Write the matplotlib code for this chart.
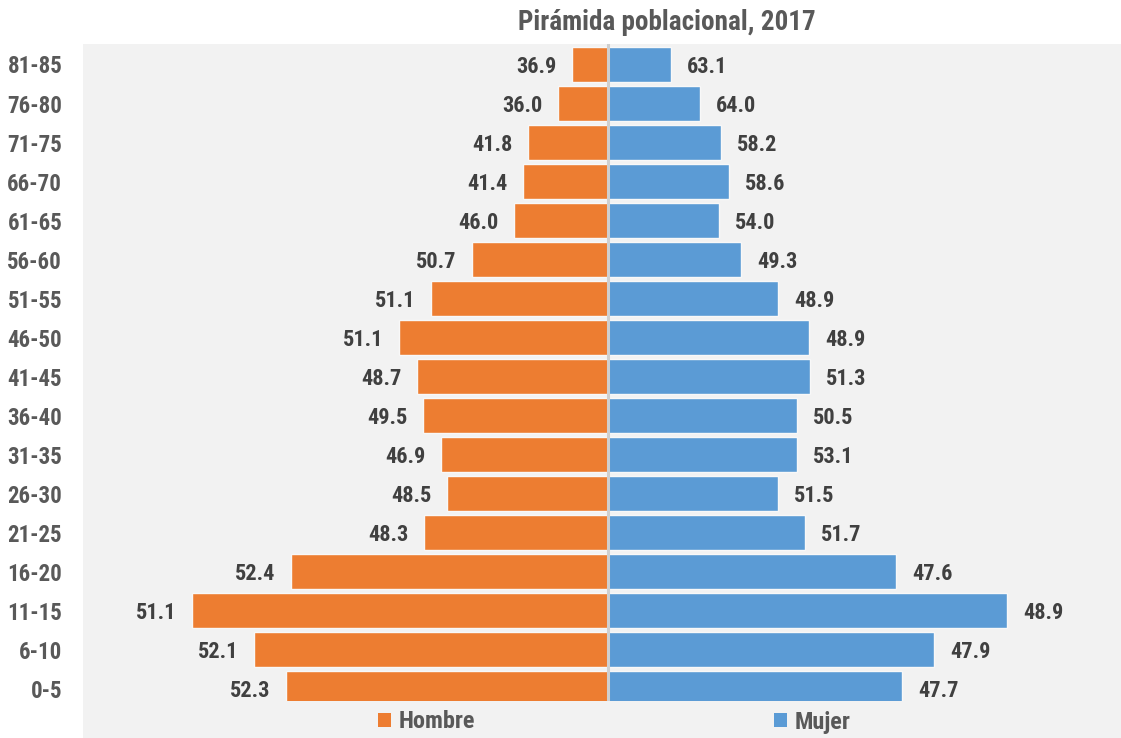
import matplotlib
matplotlib.use("Agg")
import matplotlib.pyplot as plt
from matplotlib.patches import Patch, Rectangle

# age groups, bottom to top
grupos = ["0-5", "6-10", "11-15", "16-20", "21-25", "26-30", "31-35", "36-40",
          "41-45", "46-50", "51-55", "56-60", "61-65", "66-70", "71-75", "76-80", "81-85"]

# bar lengths (same arbitrary unit for both sides)
hombre = [321.5, 353.5, 415.5, 316.5, 183.5, 160.5, 166.5, 184.5,
          190.5, 208.5, 176.5, 135.5, 93.5, 84.5, 79.5, 49.5, 35.5]
mujer = [294.5, 326.5, 399.5, 288.5, 197.5, 170.5, 189.5, 189.5,
         202.5, 201.5, 170.5, 133.5, 111.5, 121.5, 113.5, 92.5, 63.5]

# percentage labels shown next to bars
pct_hombre = ["52.3", "52.1", "51.1", "52.4", "48.3", "48.5", "46.9", "49.5",
              "48.7", "51.1", "51.1", "50.7", "46.0", "41.4", "41.8", "36.0", "36.9"]
pct_mujer = ["47.7", "47.9", "48.9", "47.6", "51.7", "51.5", "53.1", "50.5",
             "51.3", "48.9", "48.9", "49.3", "54.0", "58.6", "58.2", "64.0", "63.1"]

c_hombre = "#ED7D31"
c_mujer = "#5B9BD5"
bg = "#F2F2F2"

plt.rcParams["font.family"] = ["Roboto Condensed", "DejaVu Sans"]
plt.rcParams["font.weight"] = "bold"

fig = plt.figure(figsize=(11.21, 7.38), dpi=100)
fig.patch.set_facecolor("white")

# gray chart area (includes the legend strip)
fig.patches.append(Rectangle((83 / 1121, 0), 1 - 83 / 1121, 1 - 44 / 738,
                             transform=fig.transFigure, facecolor=bg,
                             edgecolor="none", zorder=-5))

ax = fig.add_axes([83 / 1121, 1 - 701 / 738, 1 - 83 / 1121, (701 - 44) / 738])
ax.set_facecolor("none")
ax.set_zorder(2)

y = list(range(len(grupos)))
ax.barh(y, [-v for v in hombre], height=0.9, color=c_hombre,
        edgecolor="#F8F8F8", linewidth=1, label="Hombre")
ax.barh(y, mujer, height=0.9, color=c_mujer,
        edgecolor="#F8F8F8", linewidth=1, label="Mujer")
ax.axvline(0, color="#CFCFCF", lw=2.2, zorder=3)

for i in y:
    ax.annotate(pct_hombre[i], (-hombre[i], i), xytext=(-11, 0),
                textcoords="offset points", ha="right", va="center_baseline",
                fontsize=16, color="#404040")
    ax.annotate(pct_mujer[i], (mujer[i], i), xytext=(11.5, 0),
                textcoords="offset points", ha="left", va="center_baseline",
                fontsize=16, color="#404040")

ax.set_xlim(-524.5, 513.5)
ax.set_ylim(-0.31, 16.525)
ax.set_yticks(y)
ax.set_yticklabels(grupos, fontsize=16.5, color="#595959")
ax.tick_params(axis="y", length=0, pad=15)
ax.set_xticks([])
for s in ax.spines.values():
    s.set_visible(False)

fig.text(667 / 1121, 1 - 23 / 738, "Pirámida poblacional, 2017", ha="center",
         va="center", fontsize=19.5, color="#595959", fontweight="bold")

handles = [Patch(facecolor=c_hombre, label="Hombre"), Patch(facecolor=c_mujer, label="Mujer")]
fig.legend(handles=handles, loc="center", bbox_to_anchor=(614 / 1121, 1 - 722 / 738),
           ncol=2, frameon=False, fontsize=17.5, labelcolor="#595959",
           handlelength=0.55, handleheight=0.55, handletextpad=0.3,
           columnspacing=12.3, borderpad=0)

fig.savefig("out.png", dpi=100, facecolor="white")
